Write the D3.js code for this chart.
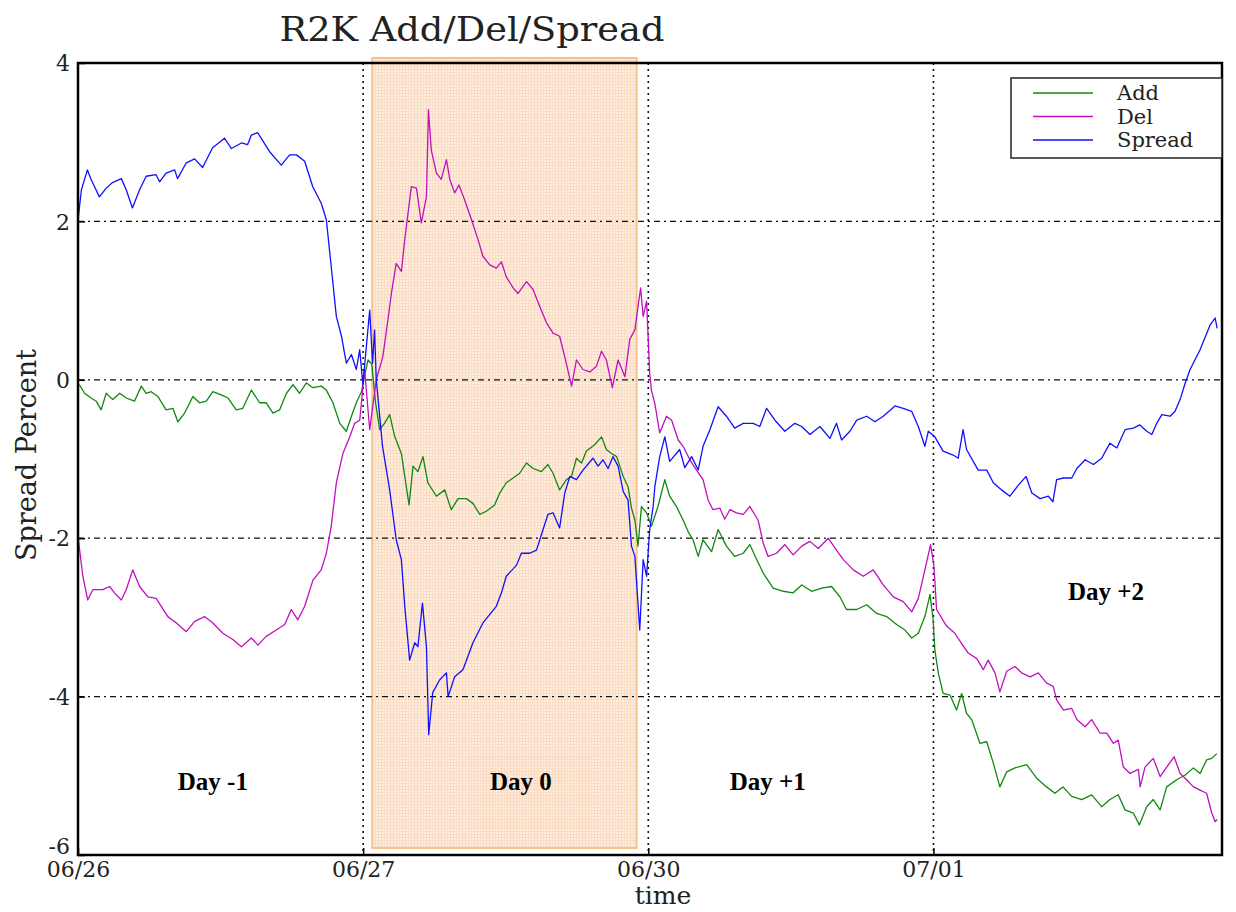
<!DOCTYPE html>
<html>
<head>
<meta charset="utf-8">
<script src="https://cdn.jsdelivr.net/npm/d3@7"></script>
<style>
  body { margin: 0; background: #fff; }
  text { font-family: "DejaVu Serif", serif; fill: #222; }
  .day-label { font-family: "Liberation Serif", serif; font-weight: bold; fill: #000; }
</style>
</head>
<body>
<svg></svg>
<script>
//begin: data
var dayTicks = [0, 1, 2, 3];
var dayLabels = ["06/26", "06/27", "06/30", "07/01"];
var yTicks = [4, 2, 0, -2, -4, -6];
var eventWindow = [1.032, 1.959];

var periodNames = ["Day -1", "Day 0", "Day +1", "Day +2"];
var periodTime = [0.473, 1.553, 2.419, 3.605];
var periodValue = [-5.18, -5.18, -5.18, -2.78];

var seriesNames = ["Add", "Del", "Spread"];

var addTime = [0.000,0.008,0.023,0.046,0.064,0.081,0.099,0.122,0.146,0.169,0.198,0.222,0.239,0.257,0.280,0.309,0.333,0.350,0.374,0.403,
  0.426,0.450,0.473,0.502,0.526,0.555,0.578,0.608,0.637,0.660,0.684,0.707,0.731,0.754,0.777,0.801,0.824,0.853,0.871,0.894,
  0.918,0.941,0.959,0.976,0.994,1.005,1.017,1.030,1.044,1.058,1.075,1.093,1.111,1.134,1.146,1.161,1.175,1.192,1.210,1.227,
  1.257,1.286,1.309,1.333,1.362,1.385,1.409,1.432,1.461,1.479,1.502,1.526,1.549,1.573,1.596,1.625,1.648,1.666,1.689,1.713,
  1.731,1.748,1.766,1.783,1.812,1.836,1.853,1.871,1.889,1.912,1.929,1.941,1.953,1.964,1.976,1.994,2.011,2.034,2.058,2.075,
  2.099,2.122,2.140,2.157,2.175,2.192,2.222,2.245,2.274,2.303,2.333,2.356,2.380,2.403,2.438,2.473,2.508,2.538,2.573,2.608,
  2.643,2.672,2.695,2.731,2.766,2.801,2.836,2.871,2.900,2.924,2.947,2.970,2.988,2.999,3.005,3.017,3.034,3.058,3.081,3.099,
  3.116,3.134,3.163,3.187,3.210,3.233,3.257,3.286,3.327,3.362,3.397,3.426,3.454,3.485,3.520,3.555,3.590,3.619,3.648,3.672,
  3.701,3.722,3.748,3.771,3.795,3.818,3.853,3.883,3.912,3.935,3.958,3.976,3.994];
var addValue = [-0.05,-0.08,-0.17,-0.23,-0.27,-0.38,-0.17,-0.25,-0.17,-0.23,-0.27,-0.08,-0.17,-0.15,-0.21,-0.38,-0.36,-0.53,-0.42,-0.21,
  -0.29,-0.27,-0.15,-0.19,-0.23,-0.38,-0.36,-0.13,-0.29,-0.29,-0.42,-0.38,-0.17,-0.06,-0.17,-0.04,-0.10,-0.08,-0.13,-0.29,
  -0.55,-0.65,-0.46,-0.29,-0.15,0.05,0.25,0.20,-0.30,-0.63,-0.55,-0.44,-0.72,-0.93,-1.22,-1.58,-1.09,-1.16,-0.97,-1.30,
  -1.47,-1.39,-1.64,-1.50,-1.50,-1.56,-1.70,-1.66,-1.58,-1.43,-1.30,-1.24,-1.18,-1.05,-1.12,-1.16,-1.07,-1.18,-1.39,-1.26,
  -1.22,-0.99,-1.05,-0.90,-0.82,-0.72,-0.88,-0.93,-0.97,-1.22,-1.35,-1.62,-1.77,-2.10,-1.60,-1.68,-1.85,-1.60,-1.26,-1.47,
  -1.60,-1.77,-1.92,-2.02,-2.23,-2.02,-2.17,-1.89,-2.10,-2.23,-2.19,-2.08,-2.27,-2.44,-2.63,-2.67,-2.69,-2.59,-2.67,-2.63,
  -2.61,-2.74,-2.90,-2.90,-2.84,-2.95,-2.99,-3.09,-3.16,-3.26,-3.20,-2.99,-2.71,-3.03,-3.41,-3.70,-3.96,-3.98,-4.17,-3.96,
  -4.21,-4.29,-4.59,-4.57,-4.84,-5.14,-4.95,-4.90,-4.86,-5.03,-5.14,-5.22,-5.14,-5.26,-5.30,-5.24,-5.39,-5.30,-5.24,-5.43,
  -5.47,-5.62,-5.39,-5.30,-5.43,-5.14,-5.05,-4.99,-4.90,-4.97,-4.80,-4.78,-4.72];

var delTime = [0.000,0.017,0.034,0.052,0.087,0.111,0.128,0.152,0.169,0.192,0.216,0.245,0.274,0.292,0.315,0.345,0.380,0.409,0.444,0.473,
  0.508,0.543,0.573,0.608,0.631,0.660,0.695,0.725,0.748,0.771,0.795,0.824,0.853,0.871,0.888,0.906,0.929,0.953,0.970,0.988,
  0.994,1.005,1.023,1.046,1.069,1.087,1.099,1.116,1.134,1.146,1.169,1.187,1.204,1.222,1.229,1.239,1.257,1.274,1.292,1.304,
  1.321,1.336,1.356,1.380,1.403,1.420,1.444,1.467,1.485,1.502,1.526,1.543,1.573,1.596,1.619,1.643,1.666,1.689,1.707,1.731,
  1.748,1.771,1.795,1.818,1.836,1.853,1.874,1.894,1.918,1.935,1.953,1.973,1.982,1.994,2.005,2.011,2.023,2.040,2.064,2.082,
  2.105,2.122,2.146,2.169,2.192,2.210,2.227,2.251,2.268,2.286,2.309,2.333,2.356,2.385,2.403,2.420,2.450,2.479,2.508,2.538,
  2.567,2.596,2.631,2.660,2.684,2.719,2.754,2.789,2.824,2.859,2.894,2.924,2.947,2.970,2.990,3.002,3.011,3.046,3.075,3.099,
  3.122,3.152,3.175,3.192,3.216,3.233,3.257,3.286,3.309,3.339,3.368,3.397,3.420,3.432,3.456,3.485,3.503,3.532,3.555,3.584,
  3.608,3.631,3.648,3.666,3.689,3.719,3.725,3.742,3.771,3.795,3.818,3.844,3.865,3.888,3.912,3.935,3.958,3.976,3.988,3.995];
var delValue = [-1.98,-2.48,-2.78,-2.65,-2.65,-2.61,-2.69,-2.78,-2.65,-2.40,-2.61,-2.74,-2.76,-2.86,-2.99,-3.07,-3.18,-3.05,-2.99,-3.07,
  -3.20,-3.28,-3.37,-3.26,-3.35,-3.24,-3.16,-3.09,-2.90,-3.03,-2.86,-2.53,-2.40,-2.19,-1.85,-1.30,-0.93,-0.72,-0.55,-0.51,
  -0.29,0.13,-0.63,0.00,0.29,0.76,1.09,1.47,1.37,1.77,2.44,2.42,1.98,2.31,3.41,2.90,2.61,2.53,2.78,2.53,
  2.36,2.46,2.27,2.02,1.77,1.56,1.45,1.41,1.49,1.30,1.16,1.09,1.24,1.14,0.93,0.72,0.59,0.55,0.29,-0.08,
  0.25,0.13,0.10,0.17,0.36,0.25,-0.10,0.25,0.04,0.51,0.63,1.16,0.80,0.99,0.08,-0.13,-0.30,-0.67,-0.46,-0.51,
  -0.76,-0.84,-1.01,-1.14,-1.26,-1.52,-1.64,-1.62,-1.76,-1.64,-1.68,-1.70,-1.60,-1.77,-2.06,-2.23,-2.19,-2.08,-2.21,-2.10,
  -2.04,-2.13,-2.00,-2.15,-2.27,-2.40,-2.48,-2.40,-2.59,-2.74,-2.80,-2.93,-2.76,-2.40,-2.08,-2.36,-2.90,-3.11,-3.20,-3.33,
  -3.45,-3.52,-3.66,-3.54,-3.70,-3.94,-3.68,-3.62,-3.70,-3.75,-3.70,-3.83,-3.87,-4.04,-4.17,-4.15,-4.29,-4.38,-4.29,-4.46,
  -4.46,-4.59,-4.55,-4.89,-4.97,-4.92,-5.14,-4.89,-4.78,-5.01,-4.89,-4.76,-4.97,-5.05,-5.14,-5.18,-5.22,-5.47,-5.58,-5.55];

var spreadTime = [0.000,0.012,0.033,0.046,0.075,0.099,0.121,0.152,0.169,0.191,0.216,0.239,0.274,0.286,0.309,0.339,0.349,0.380,0.409,0.437,
  0.472,0.514,0.538,0.573,0.595,0.608,0.630,0.672,0.713,0.742,0.766,0.795,0.823,0.853,0.871,0.888,0.906,0.924,0.941,0.959,
  0.976,0.988,0.999,1.023,1.033,1.040,1.046,1.068,1.093,1.116,1.134,1.146,1.163,1.181,1.192,1.208,1.222,1.230,1.244,1.268,
  1.292,1.298,1.321,1.350,1.385,1.420,1.467,1.485,1.502,1.538,1.555,1.584,1.608,1.631,1.648,1.666,1.689,1.707,1.725,1.748,
  1.771,1.806,1.824,1.841,1.859,1.876,1.894,1.912,1.929,1.941,1.953,1.970,1.982,1.994,2.005,2.017,2.023,2.040,2.058,2.075,
  2.110,2.128,2.152,2.175,2.192,2.216,2.245,2.274,2.303,2.333,2.368,2.391,2.415,2.444,2.479,2.514,2.538,2.567,2.602,2.637,
  2.660,2.678,2.707,2.731,2.766,2.795,2.824,2.865,2.894,2.924,2.947,2.970,2.982,3.005,3.034,3.069,3.087,3.104,3.116,3.157,
  3.187,3.210,3.239,3.268,3.298,3.325,3.345,3.374,3.403,3.419,3.432,3.456,3.485,3.503,3.532,3.561,3.590,3.619,3.643,3.672,
  3.701,3.724,3.748,3.766,3.783,3.801,3.830,3.847,3.865,3.883,3.900,3.935,3.970,3.988,3.995];
var spreadValue = [2.02,2.40,2.65,2.53,2.31,2.42,2.49,2.54,2.40,2.17,2.40,2.57,2.59,2.50,2.61,2.65,2.54,2.74,2.79,2.68,
  2.93,3.05,2.92,2.99,2.97,3.09,3.12,2.88,2.71,2.84,2.84,2.76,2.44,2.23,2.02,1.43,0.80,0.55,0.21,0.32,
  0.13,0.38,-0.06,0.88,0.21,0.63,0.00,-0.84,-1.39,-2.02,-2.27,-2.86,-3.54,-3.32,-3.37,-2.82,-3.37,-4.48,-3.95,-3.79,
  -3.70,-4.00,-3.75,-3.66,-3.32,-3.07,-2.86,-2.69,-2.48,-2.34,-2.19,-2.19,-2.15,-1.89,-1.70,-1.68,-1.87,-1.43,-1.22,-1.26,
  -1.14,-0.99,-1.09,-1.01,-1.12,-0.97,-1.09,-1.41,-1.52,-2.10,-2.23,-3.16,-2.27,-2.48,-1.89,-1.60,-1.35,-0.97,-0.72,-1.03,
  -0.88,-1.11,-0.97,-1.14,-0.84,-0.63,-0.34,-0.46,-0.61,-0.55,-0.55,-0.59,-0.36,-0.51,-0.65,-0.55,-0.59,-0.69,-0.59,-0.74,
  -0.55,-0.76,-0.65,-0.51,-0.46,-0.53,-0.46,-0.33,-0.36,-0.40,-0.59,-0.84,-0.65,-0.72,-0.90,-0.95,-0.99,-0.63,-0.88,-1.14,
  -1.14,-1.30,-1.39,-1.47,-1.33,-1.22,-1.43,-1.50,-1.47,-1.54,-1.26,-1.24,-1.24,-1.12,-1.01,-1.07,-0.99,-0.80,-0.86,-0.63,
  -0.61,-0.57,-0.65,-0.69,-0.55,-0.44,-0.46,-0.40,-0.25,-0.04,0.13,0.38,0.69,0.78,0.65];
//end: data

//begin: layout conf.
var svgWidth = 1236,
    svgHeight = 912,
    margin = {top: 63, right: 14, bottom: 57, left: 78},
    width = svgWidth - margin.left - margin.right,
    height = svgHeight - margin.top - margin.bottom;
var colors = {Add: "#118811", Del: "#c010c0", Spread: "#1010ff"};
//end: layout conf.

var svg = d3.select("svg")
    .attr("width", svgWidth)
    .attr("height", svgHeight);

var x = d3.scaleLinear().domain([0, 4.012]).range([0, width]);
var y = d3.scaleLinear().domain([-6, 4]).range([height, 0]);

var defs = svg.append("defs");
var pattern = defs.append("pattern")
    .attr("id", "shade")
    .attr("width", 3)
    .attr("height", 3)
    .attr("patternUnits", "userSpaceOnUse");
pattern.append("rect").attr("width", 3).attr("height", 3).attr("fill", "#fdeee2");
pattern.append("path").attr("d", "M0,0.5H3M0.5,0V3").attr("stroke", "#fbdcc2").attr("stroke-width", 1);

var plot = svg.append("g")
    .attr("transform", "translate(" + [margin.left, margin.top] + ")");

// event window (day 0)
plot.append("rect")
    .attr("x", x(eventWindow[0]))
    .attr("y", -5)
    .attr("width", x(eventWindow[1]) - x(eventWindow[0]))
    .attr("height", height - 2)
    .attr("fill", "url(#shade)")
    .attr("stroke", "#f9c08c")
    .attr("stroke-width", 2);
plot.append("rect")
    .attr("x", x(periodTime[1]) - 52)
    .attr("y", y(periodValue[1]) - 35)
    .attr("width", 122)
    .attr("height", 73)
    .attr("fill", "#fbd9bd")
    .attr("opacity", 0.18);

// grid
plot.append("g").selectAll("line")
    .data(yTicks.filter(function(d){ return d > -6 && d < 4; }))
    .enter().append("line")
    .attr("x1", 0).attr("x2", width)
    .attr("y1", function(d){ return y(d); })
    .attr("y2", function(d){ return y(d); })
    .attr("stroke", "#111")
    .attr("stroke-width", 1.3)
    .attr("stroke-dasharray", "6,4,2,4");
plot.append("g").selectAll("line")
    .data(dayTicks.filter(function(d){ return d > 0; }))
    .enter().append("line")
    .attr("x1", function(d){ return x(d); })
    .attr("x2", function(d){ return x(d); })
    .attr("y1", 0).attr("y2", height)
    .attr("stroke", "#111")
    .attr("stroke-width", 1.6)
    .attr("stroke-dasharray", "2,4");

// series
var series = [
  {name: "Add", time: addTime, value: addValue},
  {name: "Del", time: delTime, value: delValue},
  {name: "Spread", time: spreadTime, value: spreadValue}
];
var line = d3.line()
    .x(function(d){ return x(d[0]); })
    .y(function(d){ return y(d[1]); });

plot.append("g").selectAll("path")
    .data(series)
    .enter().append("path")
    .attr("fill", "none")
    .attr("stroke", function(d){ return colors[d.name]; })
    .attr("stroke-width", 1.3)
    .attr("stroke-linejoin", "round")
    .attr("d", function(d){
      return line(d.time.map(function(t, i){ return [t, d.value[i]]; }));
    });

// axes
var xAxis = d3.axisBottom(x)
    .tickValues(dayTicks)
    .tickFormat(function(d, i){ return dayLabels[i]; })
    .tickSize(-7)
    .tickPadding(6);
var yAxis = d3.axisLeft(y)
    .tickValues(yTicks)
    .tickFormat(function(d){ return String(d); })
    .tickSize(-7)
    .tickPadding(8);

var gx = plot.append("g")
    .attr("transform", "translate(0," + height + ")")
    .call(xAxis);
var gy = plot.append("g").call(yAxis);
[gx, gy].forEach(function(g){
  g.select(".domain").remove();
  g.selectAll("line").attr("stroke", "#000").attr("stroke-width", 1.5);
  g.selectAll("text")
    .style("font-family", "DejaVu Serif")
    .style("font-size", "22px")
    .attr("fill", "#333");
});
gy.selectAll("text").attr("dy", function(d){ return d === -6 ? "-0.05em" : "0.35em"; });

plot.append("rect")
    .attr("width", width)
    .attr("height", height)
    .attr("fill", "none")
    .attr("stroke", "#000")
    .attr("stroke-width", 2.5);

// period labels
plot.append("g").selectAll("text")
    .data(periodNames)
    .enter().append("text")
    .classed("day-label", true)
    .attr("x", function(d, i){ return x(periodTime[i]); })
    .attr("y", function(d, i){ return y(periodValue[i]); })
    .attr("text-anchor", "middle")
    .style("font-size", "25px")
    .text(function(d){ return d; });

// titles
svg.append("text")
    .attr("x", 472)
    .attr("y", 41)
    .attr("text-anchor", "middle")
    .attr("textLength", 385)
    .attr("lengthAdjust", "spacingAndGlyphs")
    .style("font-size", "34px")
    .text("R2K Add/Del/Spread");
svg.append("text")
    .attr("x", 663)
    .attr("y", 904)
    .attr("text-anchor", "middle")
    .style("font-size", "25px")
    .text("time");
svg.append("text")
    .attr("transform", "translate(36,455) rotate(-90)")
    .attr("text-anchor", "middle")
    .style("font-size", "27px")
    .text("Spread Percent");

// legend
var legend = svg.append("g")
    .attr("transform", "translate(1011,78)");
legend.append("rect")
    .attr("width", 211)
    .attr("height", 80)
    .attr("fill", "#fff")
    .attr("stroke", "#222")
    .attr("stroke-width", 1.5);
var item = legend.selectAll(".item")
    .data(seriesNames)
    .enter().append("g")
    .attr("transform", function(d, i){ return "translate(0," + (15 + i * 23.5) + ")"; });
item.append("line")
    .attr("x1", 22).attr("x2", 82)
    .attr("stroke", function(d){ return colors[d]; })
    .attr("stroke-width", 1.5);
item.append("text")
    .attr("x", 106)
    .attr("y", 7)
    .style("font-size", "21px")
    .text(function(d){ return d; });
</script>
</body>
</html>
